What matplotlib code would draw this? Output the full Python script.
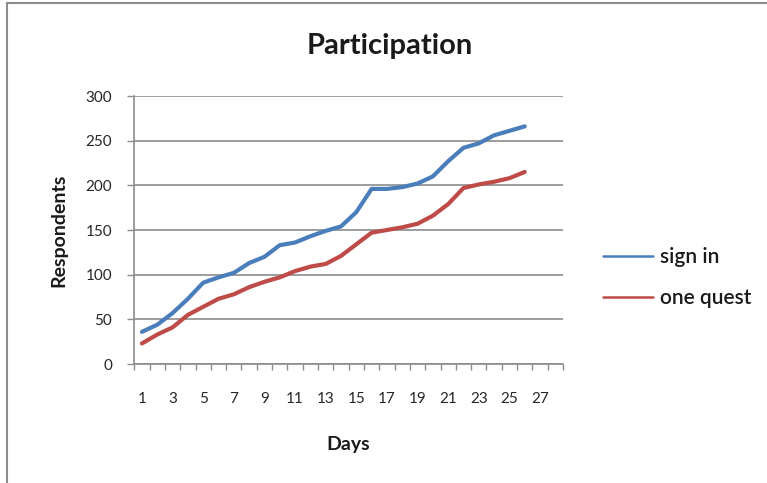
import numpy as np
import matplotlib
matplotlib.use("Agg")
import matplotlib.pyplot as plt
from matplotlib.lines import Line2D

plt.rcParams["font.family"] = ["Lato", "DejaVu Sans"]

# values
days = list(range(1, 27))
sign_in = [36, 44, 57, 73, 91, 97, 102, 113, 120, 133, 136, 143, 149, 154,
           170, 196, 196, 198, 202, 210, 227, 242, 247, 256, 261, 266]
one_quest = [23, 33, 41, 55, 64, 73, 78, 86, 92, 97, 104, 109, 112, 121,
             134, 147, 150, 153, 157, 166, 179, 197, 201, 204, 208, 215]
n_categories = 28
x_labels = [str(d) for d in range(1, n_categories + 1, 2)]
y_ticks = [0, 50, 100, 150, 200, 250, 300]

BLUE = "#4A7EBB"
RED = "#BE4B48"
GRID = "#8C8C8C"
TEXT = "#1a1a1a"

fig = plt.figure(figsize=(7.67, 4.83), dpi=100)
fig.patch.set_facecolor("white")
ax = fig.add_axes([134.3 / 767, 1 - 364 / 483, (563 - 134.3) / 767, 268 / 483])

ax.plot(days, sign_in, color=BLUE, lw=3.0, solid_capstyle="round",
        solid_joinstyle="round", label="sign in", zorder=3)
ax.plot(days, one_quest, color=RED, lw=3.0, solid_capstyle="round",
        solid_joinstyle="round", label="one quest", zorder=3)

ax.set_xlim(0.5, n_categories + 0.5)
ax.set_ylim(0, 300)

# category axis: ticks at boundaries, labels on every other category
ax.set_xticks(np.arange(0.5, n_categories + 1, 1.0))
ax.set_xticklabels([])
ax.set_xticks(np.arange(1, n_categories + 1, 2), minor=True)
ax.set_xticklabels(x_labels, minor=True)
ax.tick_params(axis="x", which="major", direction="out", length=4,
               width=1, color=GRID)
ax.tick_params(axis="x", which="minor", length=0, pad=20,
               labelsize=11, labelcolor="#262626")

ax.set_yticks(y_ticks)
ax.tick_params(axis="y", direction="out", length=5, width=1, color=GRID,
               pad=11, labelsize=11, labelcolor="#262626")
ax.yaxis.grid(True, color=GRID, lw=1.2)
ax.set_axisbelow(True)

for side in ["top", "right"]:
    ax.spines[side].set_visible(False)
for side in ["left", "bottom"]:
    ax.spines[side].set_color(GRID)
    ax.spines[side].set_linewidth(1.2)

fig.text(390 / 767, 1 - 46 / 483, "Participation", fontsize=21,
         fontweight="bold", color=TEXT, ha="center", va="center")
ax.set_xlabel("Days", fontsize=14, fontweight="bold", color=TEXT,
              labelpad=22)
ax.set_ylabel("Respondents", fontsize=14, fontweight="bold", color=TEXT,
              labelpad=13)

leg = ax.legend(loc="center left", bbox_to_anchor=(593 / 767, 1 - 277.5 / 483),
                bbox_transform=fig.transFigure, frameon=False, borderpad=0,
                fontsize=15, handlelength=2.4, handletextpad=0.3,
                labelspacing=1.0)
for line in leg.get_lines():
    line.set_linewidth(1.8)
for txt in leg.get_texts():
    txt.set_fontweight("semibold")
    txt.set_color(TEXT)

# thin grey frame along the top and left edges of the picture
fig.add_artist(Line2D([7 / 767, 7 / 767], [0, 1 - 3 / 483],
                      color="#8C8C8C", lw=1.5))
fig.add_artist(Line2D([7 / 767, 1], [1 - 3 / 483, 1 - 3 / 483],
                      color="#8C8C8C", lw=1.5))

fig.savefig("out.png", dpi=100)
